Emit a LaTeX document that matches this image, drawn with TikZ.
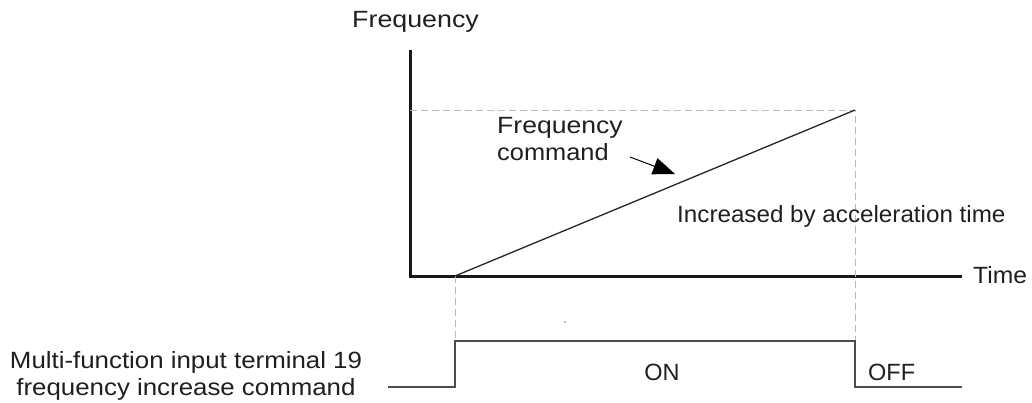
\documentclass[tikz,border=0pt]{standalone}
\usepackage{fontspec}
\setmainfont{Liberation Sans}
\usetikzlibrary{arrows.meta}
\begin{document}
\begin{tikzpicture}[x=1pt,y=-1pt,
  axis/.style={line width=3pt,black!90},
  guide/.style={gray!55,line width=1pt,dash pattern=on 7pt off 4pt},
  ramp/.style={line width=1.3pt,black!85},
  pulse/.style={line width=1.6pt,black!70},
  lbl/.style={font=\fontsize{23.5}{27}\selectfont,inner sep=0pt,text=black!88}]
\useasboundingbox (0,0) rectangle (1032,402);
% axes
\coordinate (o) at (410,276);
\coordinate (ytop) at (410,50);
\coordinate (xend) at (962,276);
\draw[axis] (ytop) -- (o) -- (xend);
\node[lbl,anchor=base west,xscale=1.05] (time) at (973,283) {Time};
\node[lbl,anchor=base west,xscale=1.14] (freq) at (352,27) {Frequency};
% guides
\coordinate (ts) at (455,276);
\coordinate (te) at (855,110);
\coordinate (fy) at (410,110);
\coordinate (gs) at (455,343);
\coordinate (ge) at (855,343);
\draw[guide] (fy) -- (te) -- (ge);
\draw[guide] (ts) -- (gs);
% ramp
\draw[ramp] (ts) -- (te);
% label with arrow
\node[lbl,anchor=base west,xscale=1.13] (fc1) at (497,133) {Frequency};
\node[lbl,anchor=base west,xscale=1.08] (fc2) at (497,160) {command};
\coordinate (a1) at (630,157);
\coordinate (a2) at (675,174);
\draw[line width=1pt,-{Triangle[length=22pt,width=17pt]}] (a1) -- (a2);
\node[lbl,anchor=base west,xscale=1.03] (inc) at (677,222) {Increased by acceleration time};
% pulse
\coordinate (p0) at (388,387);
\coordinate (p1) at (455,387);
\coordinate (p2) at (455,341);
\coordinate (p3) at (855,341);
\coordinate (p4) at (855,387);
\coordinate (p5) at (962,387);
\draw[pulse] (p0) -- (p1) -- (p2) -- (p3) -- (p4) -- (p5);
\fill[gray] (565,322) circle (0.8pt);
\node[lbl,anchor=base] (on) at (662,380) {ON};
\node[lbl,anchor=base west] (off) at (868,380) {OFF};
\node[lbl,anchor=base,xscale=1.1] (mf1) at (186,368) {Multi-function input terminal 19};
\node[lbl,anchor=base,xscale=1.1] (mf2) at (186,395) {frequency increase command};
\end{tikzpicture}
\end{document}
